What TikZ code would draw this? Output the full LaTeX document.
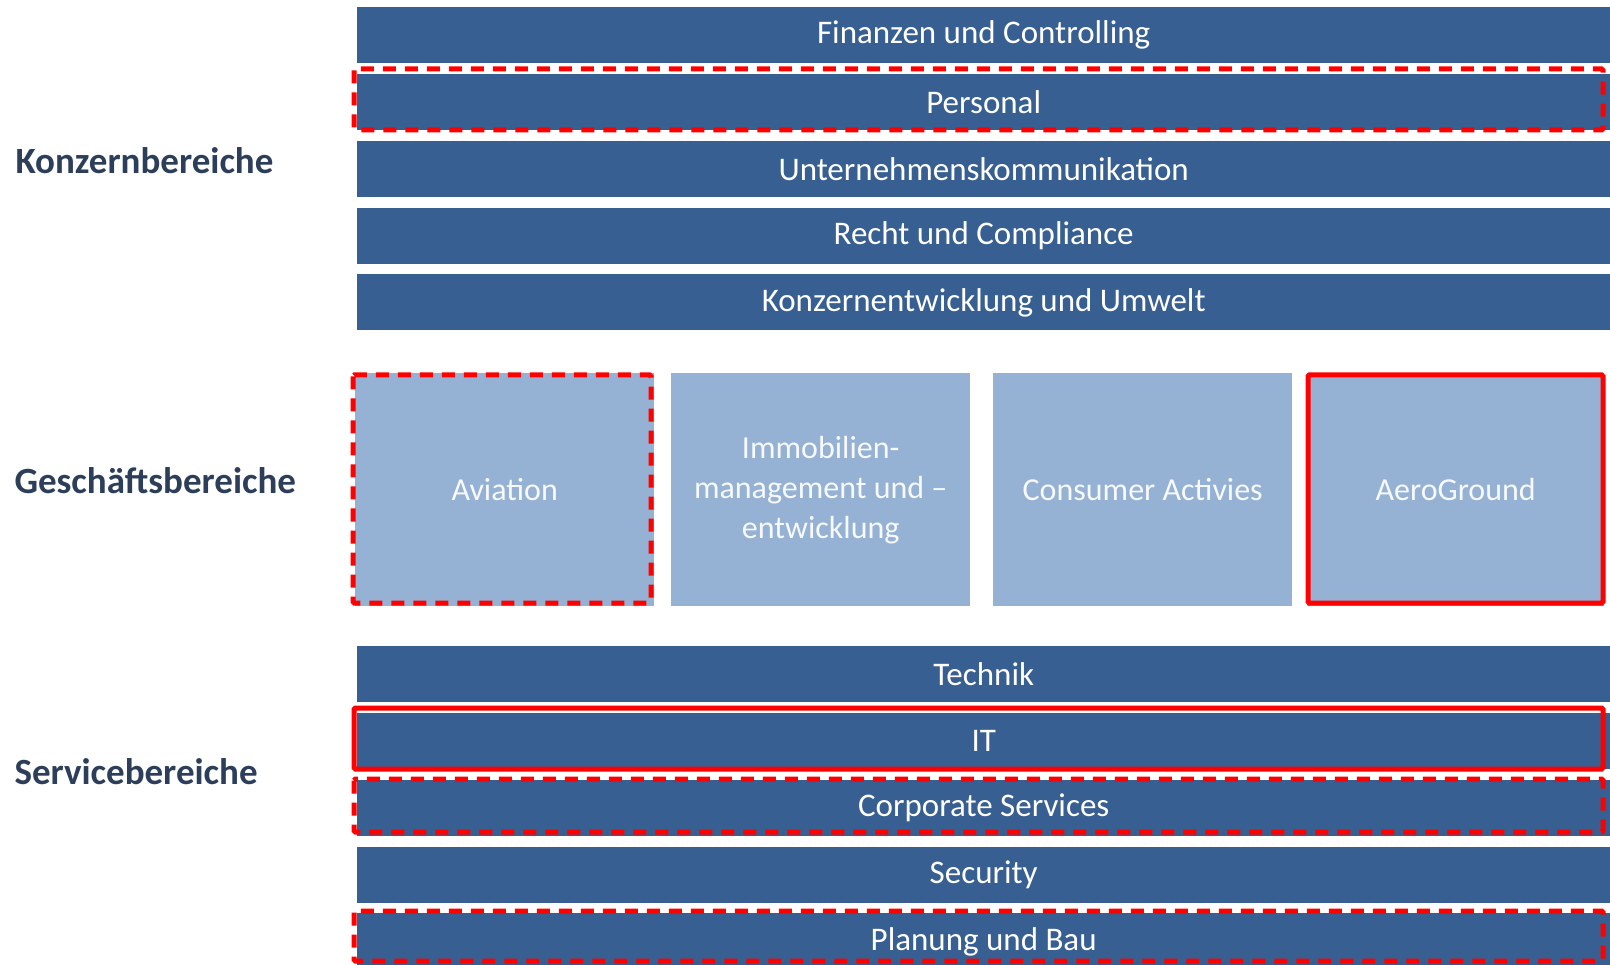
\documentclass[tikz,border=0pt]{standalone}
\usepackage{fontspec}
\setmainfont{Carlito}
\definecolor{barblue}{RGB}{56,95,145}
\definecolor{boxblue}{RGB}{149,178,213}
\definecolor{lblgrey}{RGB}{44,62,90}

\tikzset{
  bar/.style={fill=barblue, text=white, anchor=north west, inner sep=0pt,
    minimum width=1253pt, minimum height=56pt, font=\fontsize{33}{38}\selectfont},
  unit/.style={fill=boxblue, text=white!92!boxblue, anchor=north west, inner sep=0pt,
    minimum width=299pt, minimum height=233pt, align=center,
    font=\fontsize{32}{40}\selectfont},
  area/.style={anchor=west, text=lblgrey, font=\fontsize{37}{42}\selectfont\bfseries},
  redframe/.style={draw=red, line width=5pt, rounded corners=1.5pt},
  reddash/.style={redframe, dash pattern=on 13pt off 9pt}
}

\begin{document}
\begin{tikzpicture}[x=1pt, y=-1pt]
    \useasboundingbox (0,0) rectangle (1610,965);

    % Konzernbereiche
    \foreach \name/\txt [count=\i from 0] in {fin/Finanzen und Controlling,
      per/Personal, kom/Unternehmenskommunikation, rec/Recht und Compliance,
      kon/Konzernentwicklung und Umwelt}
      \node[bar] (\name) at (357, 7+66.8*\i) {\txt};

    % Geschaeftsbereiche
    \node[unit] (avi) at (355,373) {Aviation};
    \node[unit] (imm) at (671,373) {Immobilien-\\management und --\\entwicklung};
    \node[unit] (con) at (993,373) {Consumer Activies};
    \node[unit, minimum width=297pt] (aero) at (1307,373) {AeroGround};

    % Servicebereiche
    \foreach \name/\txt [count=\i from 0] in {tec/Technik, it/IT,
      cor/Corporate Services, sec/Security, bau/Planung und Bau}
      \node[bar] (\name) at (357, 646+66.8*\i) {\txt};

    \node[area] (lk) at (12,161) {Konzernbereiche};
    \node[area] (lg) at (11,481) {Geschäftsbereiche};
    \node[area] (ls) at (11,772) {Servicebereiche};

    % markings
    \draw[reddash] (354,69) rectangle (1603,130);
    \draw[reddash] (353,375) rectangle (651,603);
    \draw[redframe] (1308,375) rectangle (1603,603);
    \draw[redframe] (354,708) rectangle (1603,769);
    \draw[reddash] (354,779) rectangle (1603,832);
    \draw[reddash] (354,911) rectangle (1603,961);
\end{tikzpicture}
\end{document}
